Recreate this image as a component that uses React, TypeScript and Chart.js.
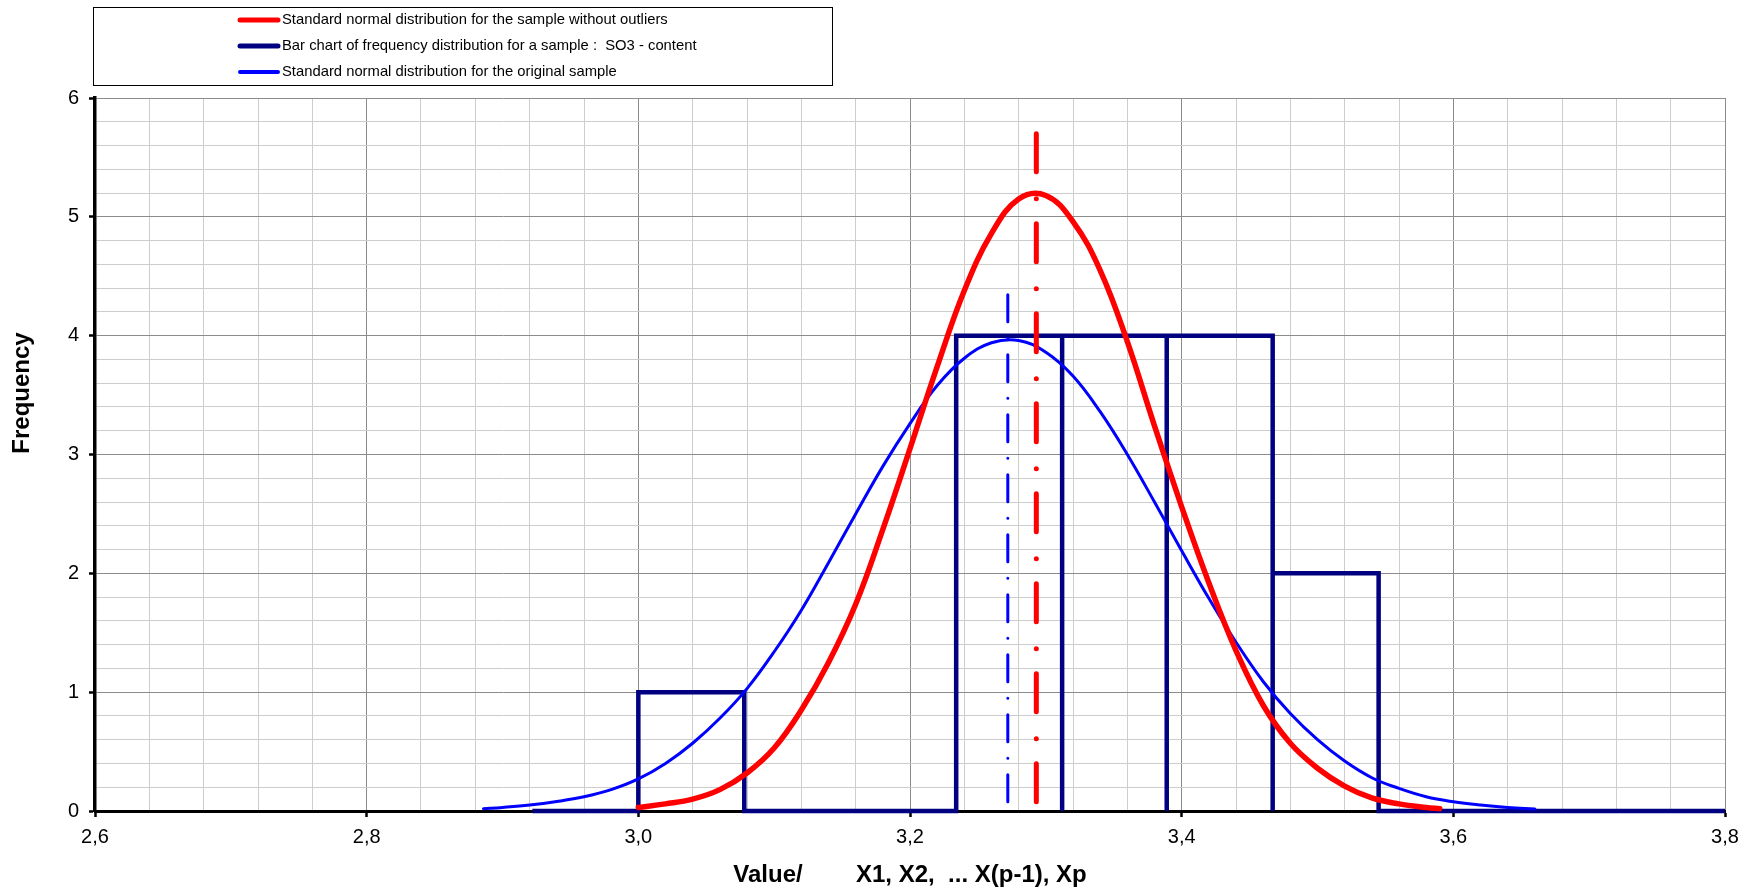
import React, { useEffect, useRef } from 'react';
import { Chart, registerables } from 'chart.js';

Chart.register(...registerables);

// ---- axis definitions ----
const xMin = 2.6;
const xMax = 3.8;
const yMin = 0;
const yMax = 6;
const xTickLabels = ['2,6', '2,8', '3,0', '3,2', '3,4', '3,6', '3,8'];
const yTickLabels = ['0', '1', '2', '3', '4', '5', '6'];
const minorPerMajor = 5;

// ---- histogram (frequency distribution) ----
const binEdges = [3.0, 3.078, 3.156, 3.234, 3.312, 3.389, 3.467, 3.545];
const binCounts = [1, 0, 0, 4, 4, 4, 2];
const histStart = 2.922;
const histEnd = 3.8;

// ---- normal curve for the sample without outliers (red) ----
const redX = [3.0, 3.02, 3.04, 3.06, 3.08, 3.1, 3.12, 3.14, 3.16, 3.18, 3.2, 3.22, 3.24, 3.26, 3.28, 3.3, 3.32, 3.34, 3.36, 3.38, 3.4, 3.42, 3.44, 3.46, 3.48, 3.5, 3.52, 3.54, 3.56, 3.58, 3.59];
const redY = [0.03, 0.06, 0.1, 0.18, 0.32, 0.53, 0.85, 1.25, 1.74, 2.37, 3.05, 3.74, 4.38, 4.86, 5.15, 5.18, 4.96, 4.55, 3.95, 3.24, 2.56, 1.92, 1.35, 0.89, 0.57, 0.36, 0.21, 0.11, 0.06, 0.03, 0.02];

// ---- normal curve for the original sample (blue) ----
const blueX = [2.886, 2.9, 2.92, 2.94, 2.96, 2.98, 3.0, 3.02, 3.04, 3.06, 3.08, 3.1, 3.12, 3.14, 3.16, 3.18, 3.2, 3.22, 3.24, 3.26, 3.28, 3.3, 3.32, 3.34, 3.36, 3.38, 3.4, 3.42, 3.44, 3.46, 3.48, 3.5, 3.52, 3.54, 3.56, 3.58, 3.6, 3.62, 3.64, 3.66];
const blueY = [0.02, 0.03, 0.05, 0.08, 0.12, 0.18, 0.27, 0.4, 0.57, 0.78, 1.03, 1.34, 1.69, 2.09, 2.5, 2.9, 3.26, 3.58, 3.81, 3.94, 3.96, 3.86, 3.66, 3.36, 3.0, 2.6, 2.19, 1.79, 1.42, 1.09, 0.82, 0.6, 0.42, 0.28, 0.19, 0.12, 0.078, 0.05, 0.03, 0.017];

// ---- mean lines ----
const redMeanX = 3.293;
const redMeanTop = 5.7;
const blueMeanX = 3.272;
const blueMeanTop = 4.345;

// ---- texts ----
const xTitle = 'Value/        X1, X2,  ... X(p-1), Xp';
const yTitle = 'Frequency';
const legendLabels = [
  'Standard normal distribution for the sample without outliers',
  'Bar chart of frequency distribution for a sample :  SO3 - content',
  'Standard normal distribution for the original sample',
];
const legendColors = ['#FF0000', '#000080', '#0000FF'];
const legendWidths = [5, 5, 4];

const FONT = '"Liberation Sans", Arial, Helvetica, sans-serif';

function histogramPoints() {
  const pts: { x: number; y: number }[] = [
    { x: histStart, y: 0 },
    { x: binEdges[0], y: 0 },
  ];
  for (let i = 0; i < binCounts.length; i++) {
    pts.push({ x: binEdges[i], y: binCounts[i] });
    pts.push({ x: binEdges[i + 1], y: binCounts[i] });
    pts.push({ x: binEdges[i + 1], y: 0 });
  }
  pts.push({ x: histEnd, y: 0 });
  return pts;
}

function gridValues(min: number, max: number, labels: string[]) {
  const n = (labels.length - 1) * minorPerMajor;
  const out: { value: number }[] = [];
  for (let i = 0; i <= n; i++) {
    out.push({ value: +(min + ((max - min) * i) / n).toFixed(6) });
  }
  return out;
}

const overlayPlugin = {
  id: 'overlay',
  afterDraw(chart: any) {
    const ctx = chart.ctx as CanvasRenderingContext2D;
    ctx.save();
    // legend box
    ctx.strokeStyle = '#000';
    ctx.lineWidth = 1;
    ctx.strokeRect(93.5, 7.5, 739, 78);
    const rows = [20, 46, 72];
    ctx.font = `14.8px ${FONT}`;
    ctx.textAlign = 'left';
    ctx.textBaseline = 'middle';
    legendLabels.forEach((lab, i) => {
      ctx.beginPath();
      ctx.strokeStyle = legendColors[i];
      ctx.lineWidth = legendWidths[i];
      ctx.lineCap = 'round';
      ctx.moveTo(240, rows[i]);
      ctx.lineTo(278, rows[i]);
      ctx.stroke();
      ctx.fillStyle = '#000';
      ctx.fillText(lab, 282, rows[i]);
    });
    // y axis title
    ctx.translate(22, 393);
    ctx.rotate(-Math.PI / 2);
    ctx.font = `bold 24px ${FONT}`;
    ctx.textAlign = 'center';
    ctx.textBaseline = 'middle';
    ctx.fillStyle = '#000';
    ctx.fillText(yTitle, 0, 0);
    ctx.restore();
  },
};

export default function App() {
  const ref = useRef<HTMLCanvasElement>(null);

  useEffect(() => {
    if (!ref.current) return;
    Chart.defaults.font.family = FONT;
    const major = '#8c8c8c';
    const minor = '#cdcdcd';
    const gridColor = (c: any) => (c.index % minorPerMajor === 0 ? major : minor);
    const tickColor = (c: any) => (c.index % minorPerMajor === 0 ? '#000' : 'rgba(0,0,0,0)');

    const chart = new Chart(ref.current, {
      type: 'line',
      data: {
        datasets: [
          {
            label: 'mean without outliers',
            data: [
              { x: redMeanX, y: redMeanTop },
              { x: redMeanX, y: 0 },
            ],
            borderColor: '#FF0000',
            borderWidth: 5,
            borderDash: [38, 27, 0.01, 25],
            borderCapStyle: 'round',
            pointRadius: 0,
            tension: 0,
            clip: false,
          },
          {
            label: 'mean original',
            data: [
              { x: blueMeanX, y: blueMeanTop },
              { x: blueMeanX, y: 0 },
            ],
            borderColor: '#0000FF',
            borderWidth: 3,
            borderDash: [27, 16.5, 0.01, 16.5],
            borderCapStyle: 'round',
            pointRadius: 0,
            tension: 0,
            clip: false,
          },
          {
            label: legendLabels[0],
            data: redX.map((x, i) => ({ x, y: redY[i] })),
            borderColor: '#FF0000',
            borderWidth: 5.5,
            borderCapStyle: 'round',
            borderJoinStyle: 'round',
            pointRadius: 0,
            tension: 0.4,
            clip: false,
          },
          {
            label: legendLabels[2],
            data: blueX.map((x, i) => ({ x, y: blueY[i] })),
            borderColor: '#0000FF',
            borderWidth: 3,
            borderCapStyle: 'round',
            borderJoinStyle: 'round',
            pointRadius: 0,
            tension: 0.4,
            clip: false,
          },
          {
            label: legendLabels[1],
            data: histogramPoints(),
            borderColor: '#000080',
            borderWidth: 4.5,
            borderJoinStyle: 'miter',
            borderCapStyle: 'butt',
            pointRadius: 0,
            tension: 0,
            clip: false,
          },
        ],
      },
      options: {
        responsive: false,
        devicePixelRatio: 1,
        animation: false,
        events: [],
        layout: { padding: { top: 98, right: 29, left: 0, bottom: 0 } },
        plugins: {
          legend: { display: false },
          tooltip: { enabled: false },
        },
        scales: {
          x: {
            type: 'linear',
            min: xMin,
            max: xMax,
            afterBuildTicks: (s: any) => {
              s.ticks = gridValues(xMin, xMax, xTickLabels);
            },
            afterFit: (s: any) => {
              s.height = 80;
            },
            ticks: {
              autoSkip: false,
              maxRotation: 0,
              minRotation: 0,
              padding: 8,
              color: '#000',
              font: { size: 20, family: FONT },
              callback: (_v: any, i: number) =>
                i % minorPerMajor === 0 ? xTickLabels[i / minorPerMajor] : '',
            },
            grid: {
              color: gridColor,
              lineWidth: 1,
              tickColor: tickColor,
              tickLength: 6,
              tickWidth: 2.5,
            },
            border: { color: '#000', width: 3 },
            title: {
              display: true,
              text: xTitle,
              color: '#000',
              font: { size: 24, weight: 'bold', family: FONT },
              padding: { top: 0, bottom: 1 },
            },
          },
          y: {
            type: 'linear',
            min: yMin,
            max: yMax,
            afterBuildTicks: (s: any) => {
              s.ticks = gridValues(yMin, yMax, yTickLabels);
            },
            afterFit: (s: any) => {
              s.width = 95;
            },
            ticks: {
              autoSkip: false,
              padding: 10,
              color: '#000',
              font: { size: 20, family: FONT },
              callback: (_v: any, i: number) =>
                i % minorPerMajor === 0 ? yTickLabels[i / minorPerMajor] : '',
            },
            grid: {
              color: gridColor,
              lineWidth: 1,
              tickColor: tickColor,
              tickLength: 6,
              tickWidth: 2.5,
            },
            border: { color: '#000', width: 3.5 },
          },
        },
      },
      plugins: [overlayPlugin],
    } as any);
    return () => chart.destroy();
  }, []);

  return (
    <div style={{ position: 'absolute', left: 0, top: 0, width: 1754, height: 891, background: '#fff' }}>
      <canvas ref={ref} width={1754} height={891} style={{ display: 'block', width: 1754, height: 891 }} />
    </div>
  );
}
